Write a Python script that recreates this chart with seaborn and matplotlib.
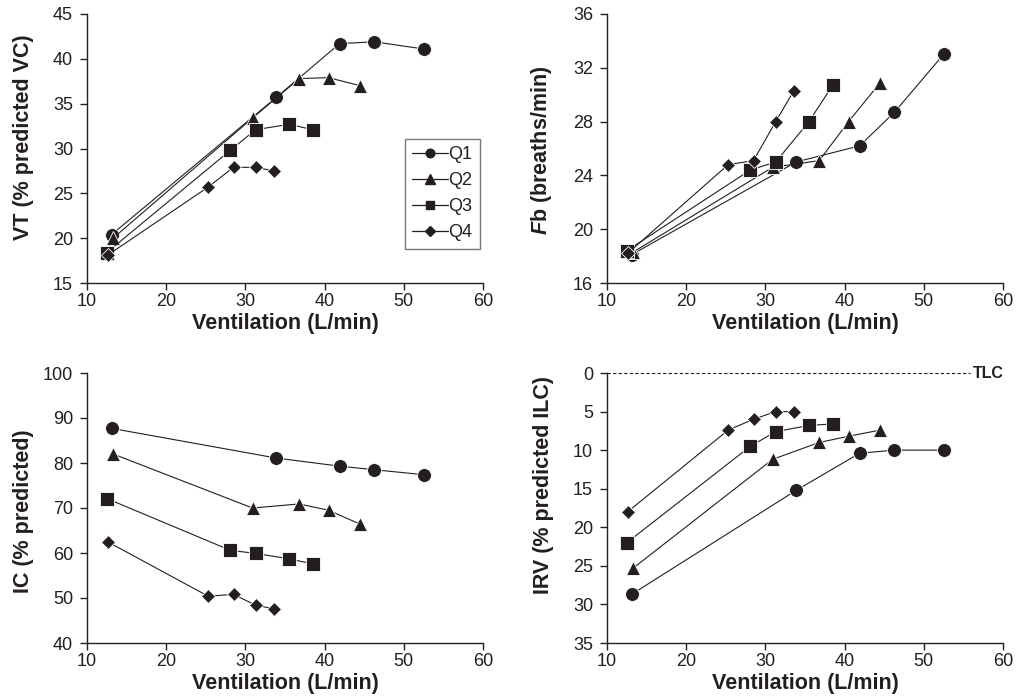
import numpy as np
import pandas as pd
import matplotlib
matplotlib.use("Agg")
import matplotlib.pyplot as plt
from matplotlib.lines import Line2D
import seaborn as sns

# ---- data ----
quartiles = ["Q1", "Q2", "Q3", "Q4"]
vent_q1 = [13.1, 33.9, 41.9, 46.3, 52.5]
vent_q2 = [13.3, 30.9, 36.8, 40.5, 44.5]
vent_q3 = [12.5, 28.1, 31.3, 35.5, 38.5]
vent_q4 = [12.6, 25.3, 28.5, 31.3, 33.6]

vt_q1 = [20.4, 35.7, 41.7, 41.9, 41.1]
vt_q2 = [20.0, 33.4, 37.8, 37.9, 37.0]
vt_q3 = [18.4, 29.8, 32.1, 32.7, 32.1]
vt_q4 = [18.1, 25.7, 27.9, 27.9, 27.5]

fb_q1 = [18.1, 25.0, 26.2, 28.7, 33.0]
fb_q2 = [18.3, 24.6, 25.1, 28.0, 30.9]
fb_q3 = [18.4, 24.4, 25.0, 28.0, 30.7]
fb_q4 = [18.2, 24.8, 25.1, 28.0, 30.3]

ic_q1 = [87.7, 81.1, 79.3, 78.5, 77.4]
ic_q2 = [82.0, 70.0, 70.9, 69.5, 66.4]
ic_q3 = [72.1, 60.6, 59.9, 58.7, 57.6]
ic_q4 = [62.5, 50.4, 50.8, 48.4, 47.6]

irv_q1 = [28.7, 15.2, 10.4, 10.0, 10.0]
irv_q2 = [25.3, 11.2, 9.0, 8.2, 7.4]
irv_q3 = [22.0, 9.5, 7.6, 6.8, 6.6]
irv_q4 = [18.0, 7.4, 6.0, 5.0, 5.0]

x_ticks = [10, 20, 30, 40, 50, 60]

vent = [vent_q1, vent_q2, vent_q3, vent_q4]
vt = [vt_q1, vt_q2, vt_q3, vt_q4]
fb = [fb_q1, fb_q2, fb_q3, fb_q4]
ic = [ic_q1, ic_q2, ic_q3, ic_q4]
irv = [irv_q1, irv_q2, irv_q3, irv_q4]

rows = []
for qi, q in enumerate(quartiles):
    for i in range(len(vent[qi])):
        rows.append({"Quartile": q, "Ventilation": vent[qi][i], "VT": vt[qi][i],
                     "Fb": fb[qi][i], "IC": ic[qi][i], "IRV": irv[qi][i],
                     "order": i})
df = pd.DataFrame(rows)

# ---- style ----
sns.set_theme(style="ticks")
ink = "#231f20"
plt.rcParams["font.family"] = ["Liberation Sans", "DejaVu Sans"]
plt.rcParams["mathtext.fontset"] = "custom"
plt.rcParams["mathtext.rm"] = "Liberation Sans:bold"
plt.rcParams["mathtext.it"] = "Liberation Sans:italic:bold"
plt.rcParams["mathtext.bf"] = "Liberation Sans:bold"
plt.rcParams.update({
    "axes.edgecolor": ink, "xtick.color": ink, "ytick.color": ink,
    "text.color": ink, "axes.labelcolor": ink,
    "axes.linewidth": 1.0, "xtick.major.width": 1.0, "ytick.major.width": 1.0,
    "xtick.major.size": 5, "ytick.major.size": 5,
    "xtick.major.pad": 2.5, "ytick.major.pad": 5,
    "xtick.labelsize": 13, "ytick.labelsize": 13,
})

markers = {"Q1": "o", "Q2": "^", "Q3": "s", "Q4": "D"}
msizes = {"Q1": 10, "Q2": 10.5, "Q3": 10, "Q4": 7.5}

fig = plt.figure(figsize=(10.16, 6.98), dpi=100)
W, H = 1016, 698
def pos(l, t, r, b):
    return [l / W, 1 - b / H, (r - l) / W, (b - t) / H]

ax1 = fig.add_axes(pos(87, 14, 483, 283))
ax2 = fig.add_axes(pos(607, 14, 1003, 283))
ax3 = fig.add_axes(pos(87, 373, 483, 643))
ax4 = fig.add_axes(pos(607, 373, 1003, 643))

LABEL_FS = 15.5
YLAB_X = -0.134

def draw(ax, col):
    for q in quartiles:
        sub = df[df["Quartile"] == q]
        sns.lineplot(data=sub, x="Ventilation", y=col, sort=False, estimator=None,
                     color=ink, lw=0.8, marker=markers[q], markersize=msizes[q],
                     markeredgecolor="white", markeredgewidth=0.6, ax=ax, legend=False)
    ax.set_xlim(10, 60)
    ax.set_xticks(x_ticks)
    ax.set_xlabel("Ventilation (L/min)", fontsize=LABEL_FS, fontweight="bold", labelpad=1.5)
    sns.despine(ax=ax)
    ax.tick_params(direction="out")

draw(ax1, "VT")
ax1.set_ylim(15, 45)
ax1.set_yticks(range(15, 46, 5))
ax1.set_ylabel("VT (% predicted VC)", fontsize=LABEL_FS, fontweight="bold")
ax1.yaxis.set_label_coords(YLAB_X, 0.541)

draw(ax2, "Fb")
ax2.set_ylim(16, 36)
ax2.set_yticks(range(16, 37, 4))
ax2.set_ylabel(r"$\mathit{F}$b (breaths/min)", fontsize=LABEL_FS, fontweight="bold")
ax2.yaxis.set_label_coords(YLAB_X, 0.494)

draw(ax3, "IC")
ax3.set_ylim(40, 100)
ax3.set_yticks(range(40, 101, 10))
ax3.set_ylabel("IC (% predicted)", fontsize=LABEL_FS, fontweight="bold")
ax3.yaxis.set_label_coords(YLAB_X, 0.487)

draw(ax4, "IRV")
ax4.set_ylim(35, 0)
ax4.set_yticks(range(0, 36, 5))
ax4.set_ylabel("IRV (% predicted ILC)", fontsize=LABEL_FS, fontweight="bold")
ax4.yaxis.set_label_coords(YLAB_X, 0.585)
ax4.plot([10, 55.8], [0, 0], ls=(0, (3, 2)), color=ink, lw=0.8, clip_on=False)
ax4.text(56.2, 0, "TLC", fontsize=11.5, fontweight="bold", va="center", ha="left")

handles = [Line2D([0], [0], color=ink, lw=0.9, marker=markers[q],
                  markersize=msizes[q] * 0.62, markeredgecolor=ink) for q in quartiles]
leg = ax1.legend(handles, quartiles, loc="upper left", bbox_to_anchor=(0.803, 0.535),
                 frameon=True, fancybox=False, fontsize=13, handlelength=2.0,
                 handletextpad=0.0, labelspacing=0.5, borderpad=0.4, borderaxespad=0)
leg.get_frame().set_edgecolor("#555555")
leg.get_frame().set_linewidth(1.0)

fig.savefig("out.png", dpi=100)
